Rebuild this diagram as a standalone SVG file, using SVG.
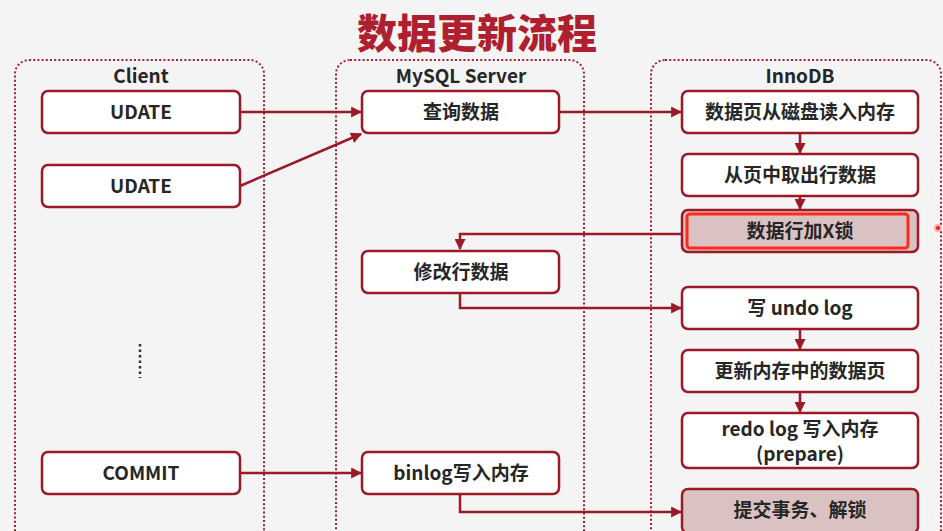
<svg xmlns="http://www.w3.org/2000/svg" width="943" height="531" viewBox="0 0 943 531">
<defs>
<style>
.panel{fill:none;stroke:#a3222f;stroke-width:2;stroke-dasharray:2 2.2}
.box{fill:#ffffff;stroke:#9a1a28;stroke-width:2.5}
.hl{fill:#dbc2c2;stroke:#9a1a28;stroke-width:2.5}
.t{font-family:"Noto Sans CJK SC","Liberation Sans",sans-serif;font-weight:bold;font-size:19px;fill:#262626;text-anchor:middle;dominant-baseline:central}
.c{fill:none;stroke:#9a1a28;stroke-width:2.5}
</style>
<marker id="ah" viewBox="0 0 10 10" refX="9" refY="5" markerWidth="4.4" markerHeight="4.4" orient="auto" markerUnits="strokeWidth">
<path d="M0,0 L10,5 L0,10 z" fill="#9a1a28"/>
</marker>
</defs>
<rect width="943" height="531" fill="#f4f4f4"/>
<text x="477" y="31" style="font-family:'Noto Sans CJK SC',sans-serif;font-weight:900;font-size:40px;fill:#ae1f2f;text-anchor:middle;dominant-baseline:central">数据更新流程</text>

<g id="panel-client"><rect class="panel" x="15" y="60" width="249" height="490" rx="14"/><text class="t" x="141" y="74">Client</text></g>
<g id="panel-server"><rect class="panel" x="336" y="60" width="248" height="490" rx="14"/><text class="t" x="461" y="74">MySQL Server</text></g>
<g id="panel-innodb"><rect class="panel" x="651" y="60" width="290" height="490" rx="14"/><text class="t" x="800" y="74">InnoDB</text></g>

<g id="connectors">
<line class="c" x1="240" y1="112" x2="361" y2="112" marker-end="url(#ah)"/>
<line class="c" x1="240" y1="186" x2="361" y2="134" marker-end="url(#ah)"/>
<line class="c" x1="559" y1="112" x2="681" y2="112" marker-end="url(#ah)"/>
<line class="c" x1="800" y1="133" x2="800" y2="153" marker-end="url(#ah)"/>
<line class="c" x1="800" y1="196" x2="800" y2="209" marker-end="url(#ah)"/>
<polyline class="c" points="682,234 460,234 460,249" marker-end="url(#ah)"/>
<polyline class="c" points="460,293 460,308 681,308" marker-end="url(#ah)"/>
<line class="c" x1="800" y1="329" x2="800" y2="349" marker-end="url(#ah)"/>
<line class="c" x1="800" y1="392" x2="800" y2="412" marker-end="url(#ah)"/>
<line class="c" x1="240" y1="473" x2="361" y2="473" marker-end="url(#ah)"/>
<polyline class="c" points="460,494 460,512 681,512" marker-end="url(#ah)"/>
</g>

<g id="n-udate1"><rect class="box" x="42" y="91" width="198" height="42" rx="6"/><text class="t" x="141" y="110">UDATE</text></g>
<g id="n-udate2"><rect class="box" x="42" y="165" width="198" height="42" rx="6"/><text class="t" x="141" y="184">UDATE</text></g>
<g id="n-dots"><line x1="140" y1="344" x2="140" y2="378" stroke="#333" stroke-width="2.5" stroke-dasharray="2.5 3"/></g>
<g id="n-commit"><rect class="box" x="42" y="452" width="198" height="42" rx="6"/><text class="t" x="141" y="471">COMMIT</text></g>

<g id="n-query"><rect class="box" x="362" y="91" width="197" height="42" rx="6"/><text class="t" x="461" y="110">查询数据</text></g>
<g id="n-modify"><rect class="box" x="362" y="251" width="197" height="42" rx="6"/><text class="t" x="461" y="270">修改行数据</text></g>
<g id="n-binlog"><rect class="box" x="362" y="452" width="197" height="42" rx="6"/><text class="t" x="461" y="471">binlog写入内存</text></g>

<g id="n-read"><rect class="box" x="682" y="91" width="236" height="42" rx="6"/><text class="t" x="800" y="110">数据页从磁盘读入内存</text></g>
<g id="n-fetch"><rect class="box" x="682" y="154" width="236" height="42" rx="6"/><text class="t" x="800" y="173">从页中取出行数据</text></g>
<g id="n-lock"><rect class="hl" x="682" y="210" width="236" height="42" rx="6"/><rect x="687" y="214" width="221" height="34" rx="3" fill="none" stroke="#ff2a1a" stroke-width="3"/><text class="t" x="800" y="229">数据行加X锁</text></g>
<g id="n-undo"><rect class="box" x="682" y="287" width="236" height="42" rx="6"/><text class="t" x="800" y="306">写 undo log</text></g>
<g id="n-update"><rect class="box" x="682" y="350" width="236" height="42" rx="6"/><text class="t" x="800" y="369">更新内存中的数据页</text></g>
<g id="n-redo"><rect class="box" x="682" y="413" width="236" height="55" rx="6"/><text class="t" x="800" y="427">redo log 写入内存</text><text class="t" x="800" y="452">(prepare)</text></g>
<g id="n-commit2"><rect class="hl" x="682" y="489" width="236" height="44" rx="6"/><text class="t" x="800" y="508">提交事务、解锁</text></g>
<circle cx="938" cy="228" r="3" fill="#e02020" stroke="#f3b0b0" stroke-width="2"/>
</svg>
